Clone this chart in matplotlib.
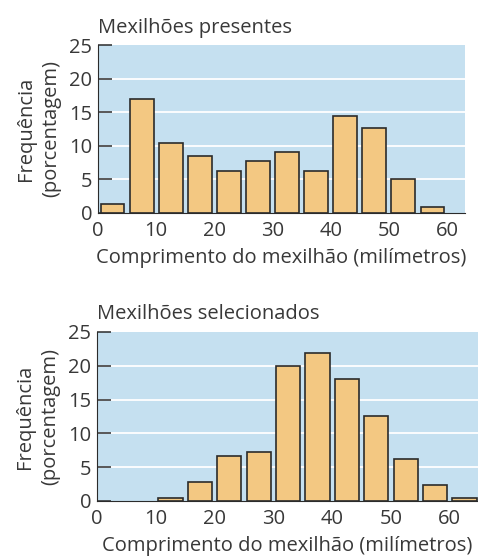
import matplotlib
matplotlib.use('Agg')
import matplotlib.pyplot as plt
import numpy as np

plt.rcParams['font.family'] = ['Open Sans', 'DejaVu Sans']

# Data
centers_top = [2.5, 7.5, 12.5, 17.5, 22.5, 27.5, 32.5, 37.5, 42.5, 47.5, 52.5, 57.5]
freq_top = [1.3, 17.0, 10.4, 8.5, 6.3, 7.8, 9.1, 6.2, 14.4, 12.7, 5.0, 0.9]

centers_bot = [12.5, 17.5, 22.5, 27.5, 32.5, 37.5, 42.5, 47.5, 52.5, 57.5, 62.5]
freq_bot = [0.5, 2.8, 6.7, 7.2, 20.0, 21.9, 18.0, 12.6, 6.2, 2.4, 0.5]

titles = ['Mexilhões presentes', 'Mexilhões selecionados']
xlabel = 'Comprimento do mexilhão (milímetros)'
ylabel = 'Frequência\n(porcentagem)'
xticks = [0, 10, 20, 30, 40, 50, 60]
yticks = [0, 5, 10, 15, 20, 25]

txt = '#383838'
bg = '#c5e0f0'
barc = '#f3c882'
edge = '#2b2b2b'
fs = 14.5

fig = plt.figure(figsize=(4.78, 5.56), dpi=100)
ax1 = fig.add_axes([0.205, 0.617, 0.768, 0.302])
ax2 = fig.add_axes([0.203, 0.099, 0.797, 0.304])

for ax, c, f, t, xmax in [(ax1, centers_top, freq_top, titles[0], 63.1),
                          (ax2, centers_bot, freq_bot, titles[1], 64.8)]:
    ax.set_facecolor(bg)
    for y in [5, 10, 15, 20]:
        ax.axhline(y, color='white', lw=1.3, zorder=1)
    ax.bar(c, f, width=4.1, color=barc, edgecolor=edge, linewidth=1.2, zorder=2)
    ax.set_xlim(0, xmax)
    ax.set_ylim(0, 25)
    ax.set_xticks(xticks)
    ax.set_yticks(yticks)
    ax.spines['top'].set_visible(False)
    ax.spines['right'].set_visible(False)
    ax.spines['left'].set_color(edge)
    ax.spines['bottom'].set_color(edge)
    ax.tick_params(axis='y', direction='in', length=10, width=1.1, color=edge,
                   labelsize=fs, labelcolor=txt, pad=4)
    ax.tick_params(axis='x', length=0, labelsize=fs, labelcolor=txt, pad=6)
    ax.set_xlabel(xlabel, fontsize=fs, color=txt, labelpad=5)
    ax.set_ylabel(ylabel, fontsize=fs, color=txt, labelpad=6, linespacing=1.35)
    ax.set_title(t, fontsize=fs, color=txt, loc='left', pad=9)

fig.savefig('out.png', dpi=100)
